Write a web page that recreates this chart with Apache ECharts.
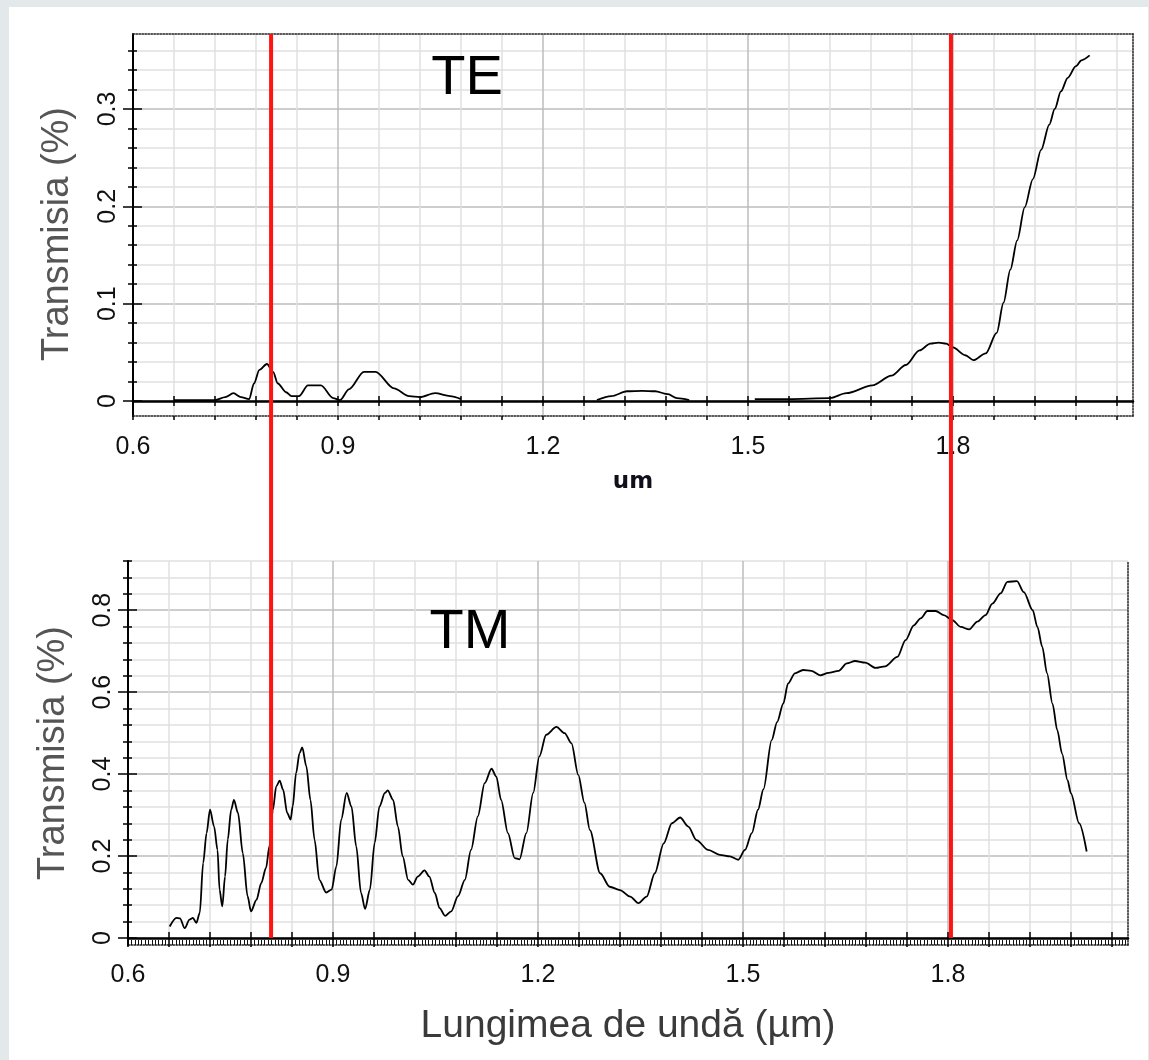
<!DOCTYPE html>
<html>
<head>
<meta charset="utf-8">
<script src="https://cdn.jsdelivr.net/npm/echarts@6/dist/echarts.min.js"></script>
<style>
html,body{margin:0;padding:0;background:#e3e9eb;}
#panel{position:absolute;left:9px;top:7px;width:1139px;height:1053px;background:#ffffff;}
#chart{position:absolute;left:0;top:0;width:1149px;height:1060px;}
</style>
</head>
<body>
<div id="panel"></div>
<div id="chart"></div>
<script>
// ---------------- DATA ----------------
// TE transmission (top panel); null = gap in the curve
const teWavelength = [0.66,0.68,0.70,0.72,0.735,0.747,0.758,0.77,0.777,0.785,0.796,0.805,0.812,0.824,0.832,0.843,0.856,0.875,0.893,0.903,0.916,0.938,0.955,0.982,1.004,1.02,1.042,1.064,1.08,
  1.18,
  1.279,1.30,1.323,1.345,1.364,1.383,1.396,1.414,
  1.46,
  1.51,1.56,1.62,1.644,1.682,1.71,1.731,1.751,1.767,1.779,1.79,1.80,1.818,1.83,1.848,1.864,1.874,1.884,1.894,1.905,1.917,1.929,1.941,1.949,1.958,1.968,1.98,1.988,2.0];
const teTransmission = [0.001,0.001,0.001,0.001,0.004,0.008,0.004,0.002,0.018,0.032,0.038,0.030,0.018,0.009,0.005,0.005,0.016,0.016,0.003,0.001,0.012,0.030,0.030,0.013,0.005,0.004,0.008,0.005,0.002,
  null,
  0.001,0.005,0.010,0.0105,0.010,0.007,0.003,0.001,
  null,
  0.002,0.002,0.003,0.008,0.016,0.026,0.037,0.052,0.059,0.060,0.059,0.055,0.047,0.042,0.049,0.070,0.101,0.135,0.165,0.199,0.228,0.258,0.284,0.300,0.318,0.332,0.344,0.350,0.355];

// TM transmission (bottom panel)
const tmWavelength = [0.661,0.671,0.676,0.683,0.690,0.695,0.700,0.705,0.710,0.715,0.720,0.726,0.731,0.734,0.738,0.742,0.746,0.751,0.755,0.761,0.768,0.775,0.780,0.788,0.795,0.802,0.807,0.812,0.817,0.822,0.827,0.833,0.838,0.841,0.846,0.851,0.855,0.861,0.867,0.873,0.880,0.890,0.898,0.905,0.912,0.920,0.927,0.934,0.941,0.947,0.954,0.961,0.968,0.976,0.980,0.988,0.995,1.002,1.010,1.017,1.024,1.034,1.041,1.049,1.056,1.064,1.073,1.083,1.093,1.102,1.112,1.122,1.132,1.139,1.146,1.156,1.166,1.173,1.183,1.193,1.202,1.212,1.227,1.239,1.249,1.259,1.268,1.276,1.291,1.305,1.320,1.335,1.347,1.359,1.371,1.384,1.396,1.408,1.420,1.432,1.449,1.466,1.481,1.493,1.503,1.513,1.522,1.530,1.542,1.550,1.559,1.566,1.576,1.588,1.600,1.613,1.625,1.640,1.652,1.664,1.679,1.694,1.708,1.726,1.738,1.750,1.760,1.770,1.782,1.794,1.806,1.819,1.831,1.843,1.855,1.865,1.877,1.887,1.901,1.911,1.924,1.931,1.938,1.945,1.953,1.960,1.967,1.975,1.980,1.992,2.003];
const tmTransmission = [0.028,0.049,0.048,0.024,0.045,0.049,0.037,0.061,0.183,0.256,0.313,0.272,0.215,0.118,0.077,0.150,0.240,0.313,0.337,0.305,0.207,0.102,0.065,0.093,0.134,0.171,0.224,0.313,0.370,0.384,0.362,0.305,0.289,0.321,0.402,0.451,0.465,0.419,0.337,0.240,0.142,0.111,0.118,0.175,0.289,0.354,0.321,0.224,0.110,0.071,0.118,0.232,0.321,0.354,0.360,0.337,0.272,0.199,0.142,0.130,0.150,0.165,0.150,0.110,0.073,0.054,0.065,0.102,0.142,0.215,0.297,0.378,0.413,0.394,0.337,0.256,0.195,0.192,0.256,0.354,0.443,0.496,0.515,0.500,0.475,0.398,0.330,0.263,0.158,0.125,0.117,0.101,0.085,0.101,0.158,0.231,0.280,0.294,0.272,0.239,0.215,0.203,0.199,0.191,0.215,0.256,0.313,0.363,0.483,0.527,0.572,0.621,0.646,0.654,0.652,0.641,0.647,0.652,0.670,0.676,0.672,0.659,0.663,0.686,0.727,0.763,0.780,0.798,0.798,0.788,0.776,0.759,0.753,0.772,0.788,0.816,0.841,0.869,0.871,0.844,0.800,0.759,0.711,0.646,0.572,0.507,0.450,0.385,0.353,0.280,0.211];

// vertical red marker lines (µm)
const redLines = [0.805, 1.8];

// ticks and labels
const xTickValues = [0.6,0.66,0.72,0.78,0.84,0.9,0.96,1.02,1.08,1.14,1.2,1.26,1.32,1.38,1.44,1.5,1.56,1.62,1.68,1.74,1.8,1.86,1.92,1.98,2.04];
const xLabelValues = [0.6,0.9,1.2,1.5,1.8];
const teYTickValues = [0,0.02,0.04,0.06,0.08,0.1,0.12,0.14,0.16,0.18,0.2,0.22,0.24,0.26,0.28,0.3,0.32,0.34,0.36];
const teYLabelValues = [0,0.1,0.2,0.3];
const tmYTickValues = [0,0.04,0.08,0.12,0.16,0.2,0.24,0.28,0.32,0.36,0.4,0.44,0.48,0.52,0.56,0.6,0.64,0.68,0.72,0.76,0.8,0.84,0.88,0.92];
const tmYLabelValues = [0,0.2,0.4,0.6,0.8];

// ---------------- CHART ----------------
const FONT = "'Liberation Sans', Arial, sans-serif";
const MAJOR = '#bcbcbc', MINOR = '#e1e1e1';
const X_MIN = 0.6, X_MAX = 2.0635;

const option = {
  animation: false,
  backgroundColor: 'transparent',
  grid: [
    {left: 133, top: 34, width: 1000, height: 382, outerBoundsMode: 'none', containLabel: false},
    {left: 128, top: 561, width: 1000, height: 384, outerBoundsMode: 'none', containLabel: false},
    {left: 131, top: 34, width: 1000, height: 904, outerBoundsMode: 'none', containLabel: false}
  ],
  xAxis: [], yAxis: [], series: [],
  graphic: [
    {type: 'text', x: 467, y: 79, z: 50, style: {text: 'TE', fontSize: 56, fontFamily: FONT, fill: '#000', align: 'center', verticalAlign: 'middle'}},
    {type: 'text', x: 470, y: 633, z: 50, style: {text: 'TM', fontSize: 56, fontFamily: FONT, fill: '#000', align: 'center', verticalAlign: 'middle'}}
  ]
};

function ax(base, extra) { return Object.assign({}, base, extra); }
const OFF = {axisLine: {show: false, onZero: false}, axisTick: {show: false}, axisLabel: {show: false}, splitLine: {show: false}};

function addPanel(g, p) {
  const yb = ax(OFF, {gridIndex: g, type: 'value', min: p.yMin, max: p.yMax, position: 'left'});
  const xb = ax(OFF, {gridIndex: g, type: 'value', min: X_MIN, max: X_MAX, position: 'bottom'});
  const y0 = option.yAxis.length;
  option.yAxis.push(ax(yb, {
    axisLine: {show: true, onZero: false, lineStyle: {color: '#000', width: 2}},
    axisTick: {show: true, customValues: p.yTicks, length: 5, lineStyle: {color: '#000', width: 1.5}},
    axisLabel: {show: true, customValues: p.yLabels, rotate: 90, margin: 12, fontSize: 25, fontFamily: FONT, color: '#111'},
    splitLine: {show: true, lineStyle: {color: [MAJOR, MINOR, MINOR, MINOR, MINOR], width: 1.5}},
    name: 'Transmisia (%)', nameLocation: 'middle', nameGap: p.yNameGap, nameRotate: 90,
    nameTextStyle: {fontSize: 38, fontFamily: FONT, color: '#555', padding: p.yNamePad}
  }));
  option.yAxis.push(ax(yb, {axisTick: {show: true, inside: true, customValues: p.yTicks, length: 4, lineStyle: {color: '#000', width: 1.5}}}));
  option.yAxis.push(ax(yb, {axisTick: {show: true, customValues: p.yLabels, length: 10, lineStyle: {color: '#000', width: 1.5}}}));
  option.yAxis.push(ax(yb, {axisTick: {show: true, inside: true, customValues: p.yLabels, length: 9, lineStyle: {color: '#000', width: 1.5}}}));
  option.yAxis.push(ax(yb, {position: 'right', axisLine: {show: true, onZero: false, lineStyle: {color: '#222', width: 1.5, type: 'dotted'}}}));

  const x0 = option.xAxis.length;
  option.xAxis.push(ax(xb, {
    axisLine: {show: true, onZero: true, onZeroAxisIndex: y0, lineStyle: {color: '#000', width: 2.5}},
    axisTick: {show: true, customValues: xTickValues, length: p.zeroTickOut, lineStyle: {color: '#000', width: 1.5}},
    splitLine: {show: true, lineStyle: {color: [MAJOR, MINOR, MINOR, MINOR, MINOR], width: 1.5}}
  }));
  option.xAxis.push(ax(xb, {
    axisLine: {show: false, onZero: true, onZeroAxisIndex: y0},
    axisTick: {show: true, inside: true, customValues: xTickValues, length: p.zeroTickIn, lineStyle: {color: '#000', width: 1.5}}
  }));
  const bottom = ax(xb, {
    axisLine: {show: true, onZero: false, lineStyle: {color: '#222', width: 1.5, type: 'dotted'}},
    axisLabel: {show: true, customValues: xLabelValues, margin: p.xLabelMargin, fontSize: 25, fontFamily: FONT, color: '#111'},
    name: p.xName, nameLocation: 'middle', nameGap: p.xNameGap, nameTextStyle: p.xNameStyle
  });
  if (p.hatch) {
    bottom.interval = 0.06;
    bottom.axisTick = {show: false, inside: true};
    bottom.minorTick = {show: true, splitNumber: 12, length: 5, lineStyle: {color: '#111', width: 1}};
  } else {
    bottom.axisTick = {show: true, customValues: xTickValues, length: 4, lineStyle: {color: '#000', width: 1.5}};
  }
  option.xAxis.push(bottom);
  if (p.topBorder) {
    option.xAxis.push(ax(xb, {position: 'top', axisLine: {show: true, onZero: false, lineStyle: {color: '#222', width: 1.5, type: 'dotted'}}}));
  }
  return {x: x0, y: y0};
}

const te = addPanel(0, {
  yMin: -0.0154, yMax: 0.377, yTicks: teYTickValues, yLabels: teYLabelValues,
  yNameGap: 56, yNamePad: [0, 18, 0, 0],
  zeroTickOut: 5, zeroTickIn: 5, xLabelMargin: 19,
  xName: 'um', xNameGap: 55,
  xNameStyle: {fontSize: 23, fontWeight: 'bold', fontFamily: "'DejaVu Sans', sans-serif", color: '#10101c'},
  hatch: false, topBorder: true
});
const tm = addPanel(1, {
  yMin: -0.0171, yMax: 0.92, yTicks: tmYTickValues, yLabels: tmYLabelValues,
  yNameGap: 55, yNamePad: 0,
  zeroTickOut: 9, zeroTickIn: 6, xLabelMargin: 18,
  xName: 'Lungimea de undă (µm)', xNameGap: 62,
  xNameStyle: {fontSize: 39, fontFamily: FONT, color: '#3a3a3a'},
  hatch: true, topBorder: false
});

const xr = option.xAxis.length, yr = option.yAxis.length;
option.xAxis.push(ax(OFF, {gridIndex: 2, type: 'value', min: X_MIN, max: X_MAX, show: false}));
option.yAxis.push(ax(OFF, {gridIndex: 2, type: 'value', min: 0, max: 1, show: false}));

function pairs(xs, ys) { return xs.map((v, i) => [v, ys[i]]); }

option.series.push({
  name: 'TE', type: 'line', xAxisIndex: te.x, yAxisIndex: te.y,
  data: pairs(teWavelength, teTransmission), showSymbol: false, symbol: 'none',
  smooth: 0.3, smoothMonotone: 'x', connectNulls: false,
  lineStyle: {color: '#000', width: 1.8}, z: 5, silent: true
});
option.series.push({
  name: 'TM', type: 'line', xAxisIndex: tm.x, yAxisIndex: tm.y,
  data: pairs(tmWavelength, tmTransmission), showSymbol: false, symbol: 'none',
  smooth: 0.3, smoothMonotone: 'x',
  lineStyle: {color: '#000', width: 1.8}, z: 5, silent: true
});
redLines.forEach(v => {
  option.series.push({
    type: 'line', xAxisIndex: xr, yAxisIndex: yr,
    data: [[v, 0], [v, 1]], showSymbol: false, symbol: 'none',
    lineStyle: {color: '#ff1414', width: 4}, z: 30, silent: true
  });
});

const chart = echarts.init(document.getElementById('chart'), null, {renderer: 'canvas'});
chart.setOption(option);
</script>
</body>
</html>
